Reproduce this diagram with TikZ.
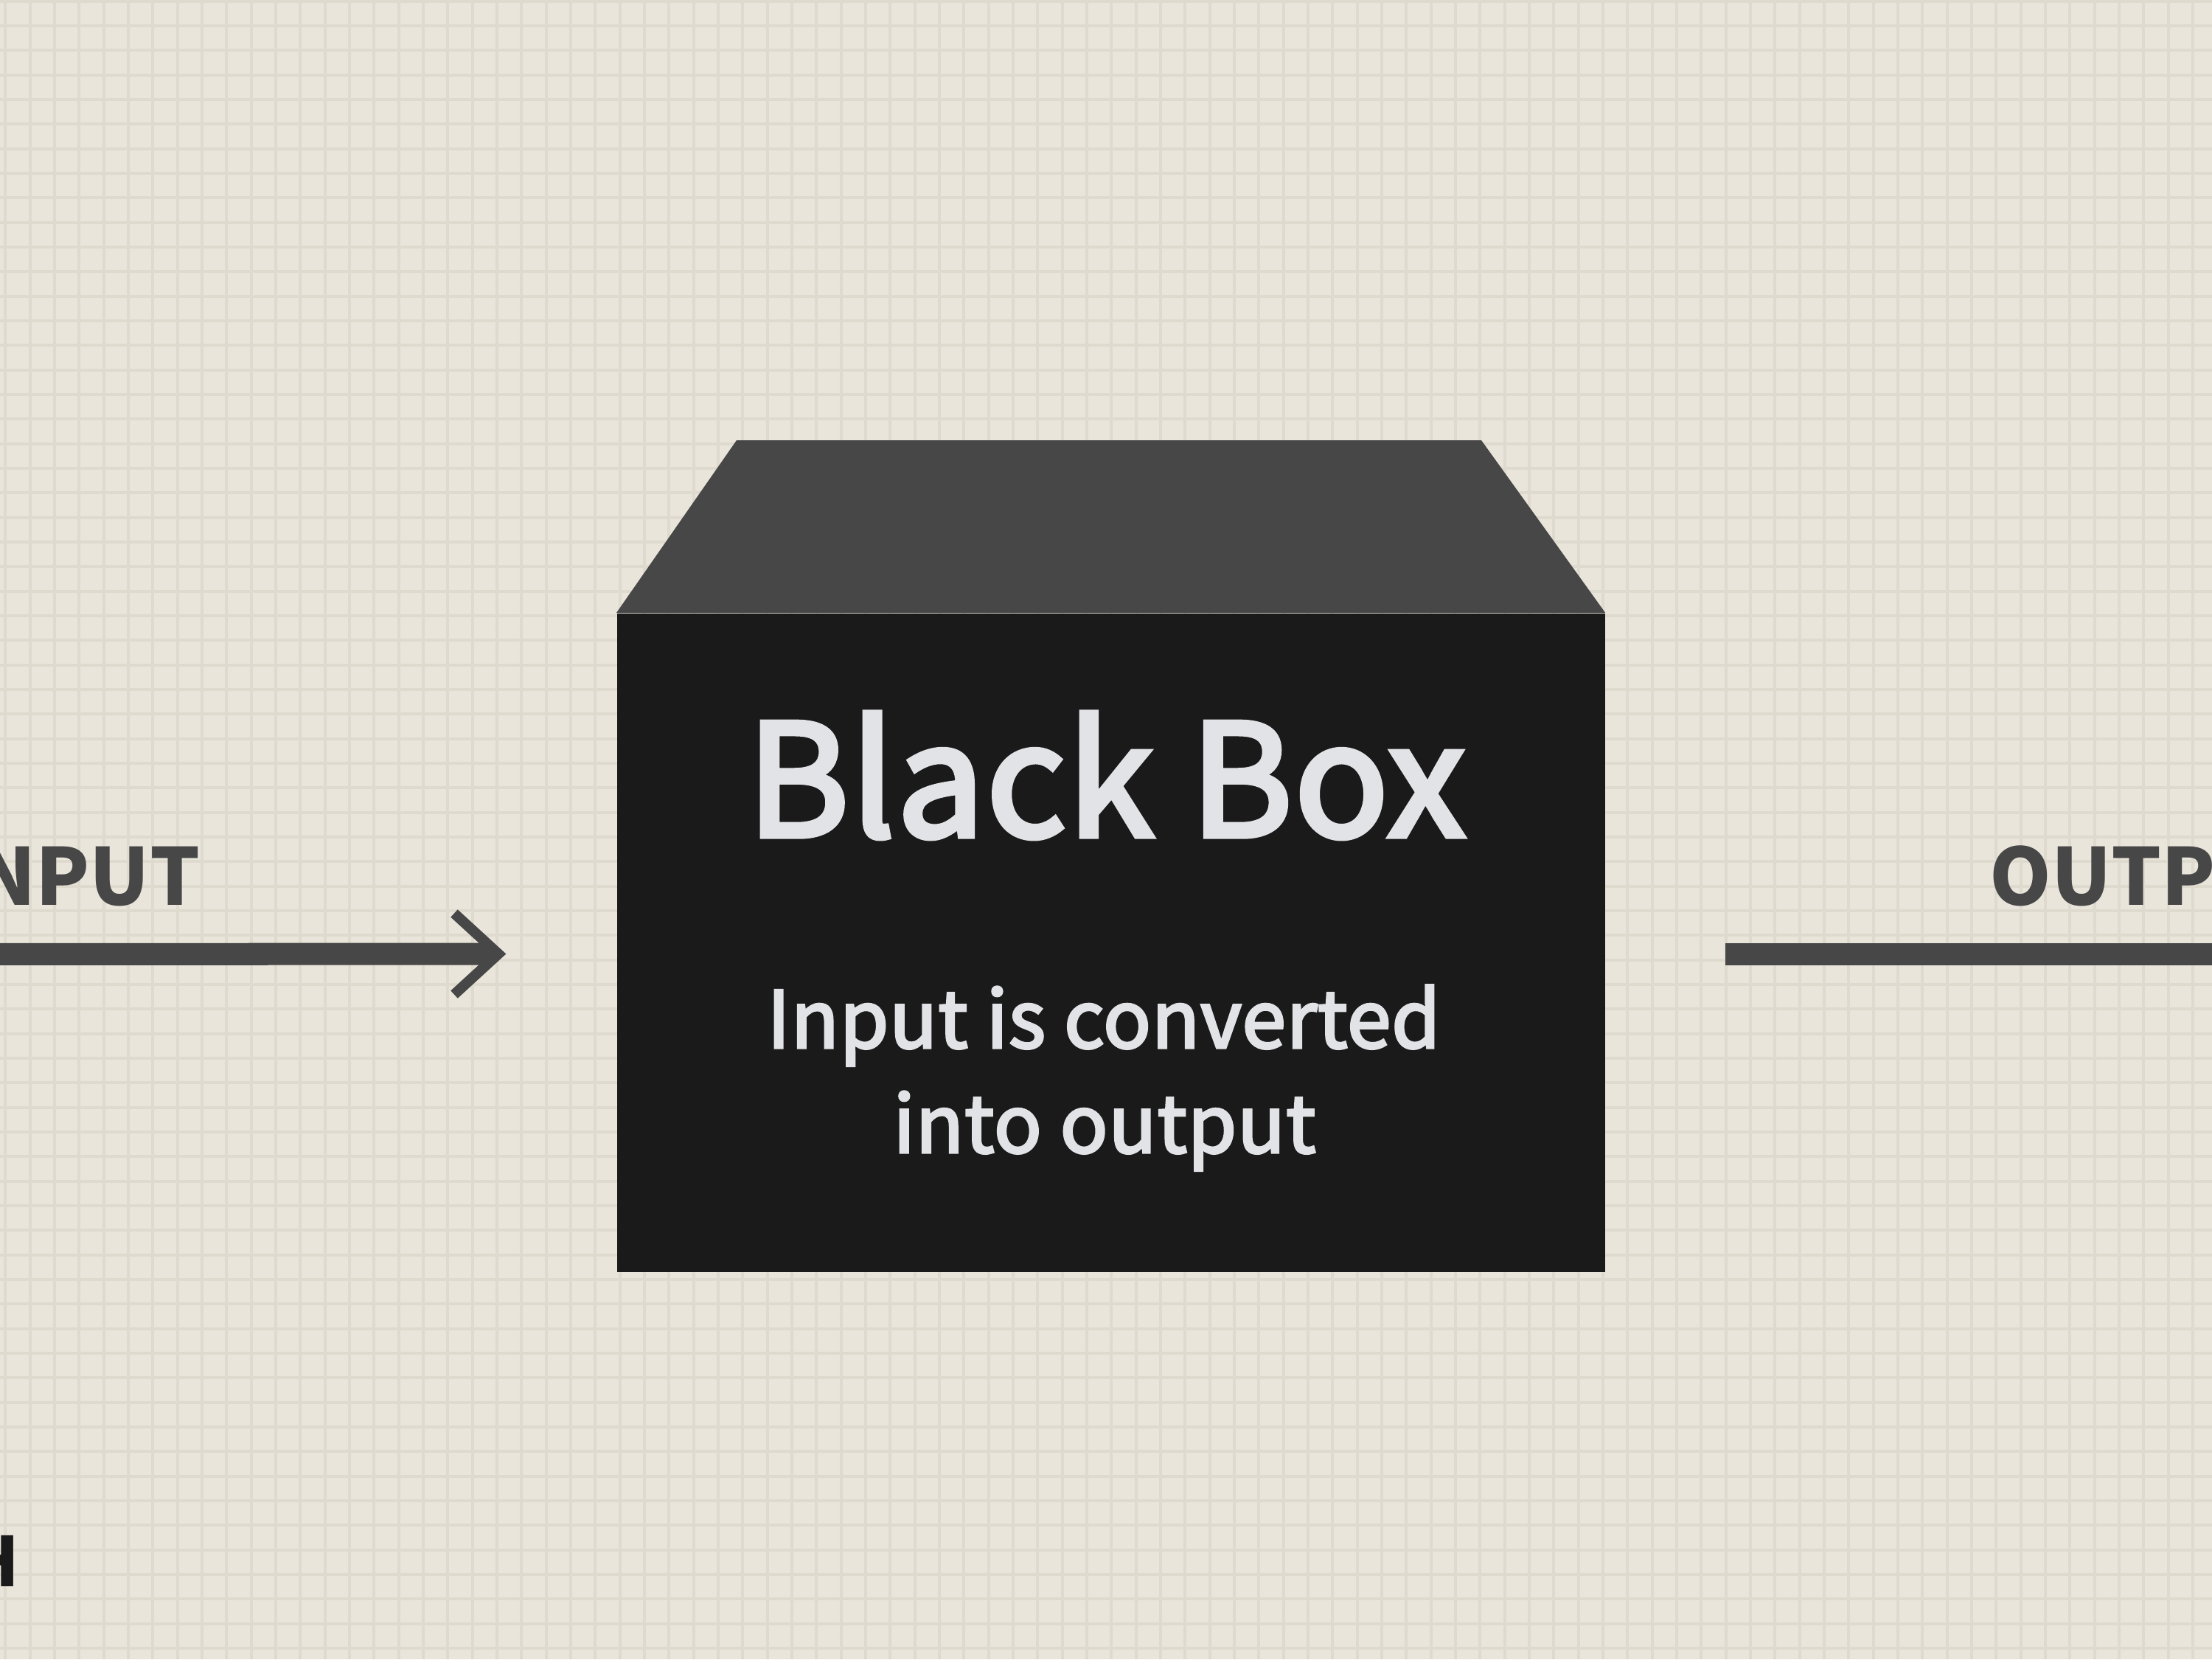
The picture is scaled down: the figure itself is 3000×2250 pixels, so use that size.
\documentclass[tikz,border=0pt]{standalone}
\usepackage{fontspec}
\setmainfont{Noto Sans CJK SC}
\newfontfamily\medfont{Noto Sans CJK SC}[FakeBold=3.5, LetterSpace=1.2]
\newfontfamily\descfont{Noto Sans CJK SC}[FakeBold=3, LetterSpace=0.8]
\definecolor{bgc}{HTML}{E9E5DB}
\definecolor{gridc}{HTML}{DFDACE}
\definecolor{topc}{HTML}{474747}
\definecolor{frontc}{HTML}{1A1A1A}
\definecolor{txtc}{HTML}{E2E3E7}
\definecolor{labc}{HTML}{474747}
\tikzset{
  gridline/.style={draw=gridc, line width=0.04cm},
  shaft/.style={draw=labc, line width=0.30cm, line cap=butt},
  chevron/.style={draw=labc, line width=0.14cm, line cap=butt, line join=miter},
  boxtext/.style={text=txtc, inner sep=0pt},
  sidelabel/.style={text=labc, inner sep=0pt, font=\fontsize{30.3}{36}\selectfont\bfseries},
}
\begin{document}
\begin{tikzpicture}[x=0.01cm, y=-0.01cm]
\fill[bgc] (0,0) rectangle (3000,2250);
\useasboundingbox (0,0) rectangle (3000,2250);
\foreach \i in {0,...,90} {
  \draw[gridline] (7.3+33.333*\i,0) -- ++(0,2250);
}
\foreach \j in {0,...,68} {
  \draw[gridline] (0,1.7+33.333*\j) -- ++(3000,0);
}
% box
\node[fill=frontc, minimum width=13.39cm, minimum height=8.93cm, inner sep=0pt, anchor=north west] (box) at (836,831) {};
\fill[topc] (box.north west) -- ++(163,-234) -- ++(1010,0) -- (box.north east) -- cycle;
% texts in box
\node[boxtext, anchor=base, font=\medfont\fontsize{60}{72}\selectfont] (title) at (1500,1134) {Black Box};
\node[boxtext, anchor=base, font=\descfont\fontsize{30.5}{40}\selectfont] (desc1) at (1497,1421) {Input is converted};
\node[boxtext, anchor=base, font=\descfont\fontsize{30.5}{40}\selectfont] (desc2) at (1498,1563) {into output};
% labels
\node[sidelabel, anchor=base east] (inlabel) at (272,1227) {INPUT};
\node[sidelabel, anchor=base west] (outlabel) at (2698,1227) {OUTPUT};
\node[text=frontc, inner sep=0pt, anchor=base east, font=\fontsize{26.4}{30}\selectfont\bfseries] (cut) at (27,2151) {H};
% input arrow
\coordinate (inStart) at (-60,1294);
\coordinate (inTip) at (676,1293.5);
\draw[shaft] (inStart) -- ([xshift=-0.11cm]inTip);
\draw[chevron] (inTip) ++(-60,-55) -- (inTip) -- ++(-60,55);
% output line
\coordinate (outStart) at (2340,1294);
\coordinate (outEnd) at (3060,1294);
\draw[shaft] (outStart) -- (outEnd);
\end{tikzpicture}
\end{document}
